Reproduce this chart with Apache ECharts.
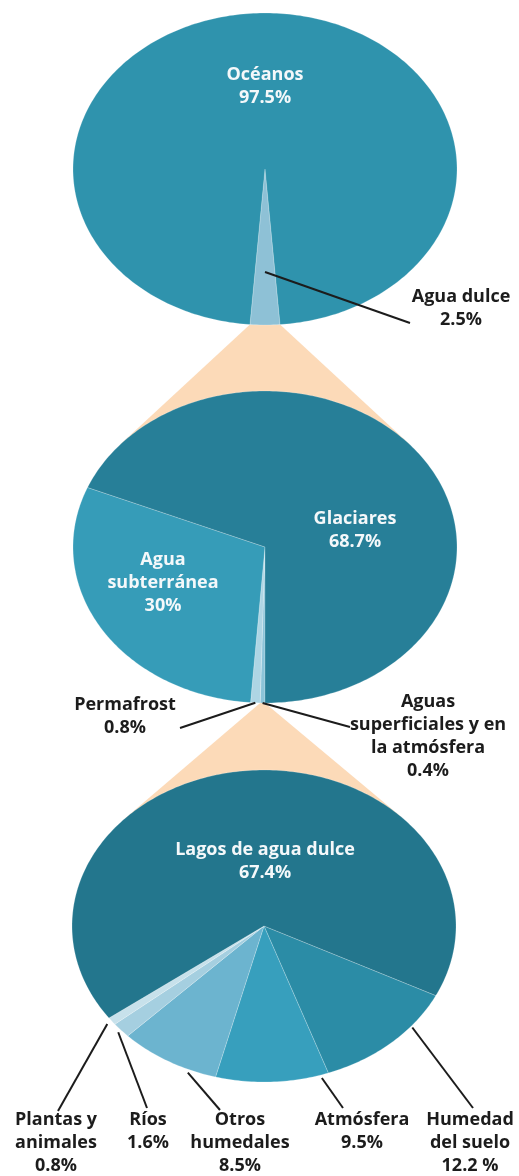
<!DOCTYPE html>
<html><head><meta charset="utf-8">
<script src="https://cdn.jsdelivr.net/npm/echarts@6/dist/echarts.min.js"></script>
<style>html,body{margin:0;padding:0;background:#fff}#c{width:519px;height:1176px}</style>
</head><body><div id="c"></div>
<script>
// ---------- DATA ----------
const totalNames  = ['Agua dulce', 'Océanos'];
const totalValues = [2.5, 97.5];
const totalPct    = ['2.5%', '97.5%'];

const freshNames  = ['Aguas\nsuperficiales y en\nla atmósfera', 'Permafrost', 'Agua\nsubterránea', 'Glaciares'];
const freshValues = [0.4, 0.8, 30, 68.7];
const freshPct    = ['0.4%', '0.8%', '30%', '68.7%'];

const surfNames   = ['Humedad\ndel suelo', 'Atmósfera', 'Otros\nhumedales', 'Ríos', 'Plantas y\nanimales', 'Lagos de agua dulce'];
const surfValues  = [12.2, 9.5, 8.5, 1.6, 0.8, 67.4];
const surfPct     = ['12.2 %', '9.5%', '8.5%', '1.6%', '0.8%', '67.4%'];

// ---------- LAYOUT / STYLE ----------
const RX = 192, RY = 156;
const FONT = '"Open Sans", "DejaVu Sans", sans-serif';
const DARK = '#1c1c1c', WHITE = '#f4f8fa';

function sum(a){ return a.reduce((s, v) => s + v, 0); }

const pies = [
  { cx: 265, cy: 169,
    start: 90 - totalValues[0] / sum(totalValues) * 180,
    names: totalNames, values: totalValues, pct: totalPct,
    colors: ['#8EC1D6', '#2F93AD'],
    zoomSlice: 0,
    labels: [
      { x: 461, y: 308.5, color: DARK, line: { frac: 0.5, r: 0.66, to: [410, 323] } },
      { x: 265, y: 86.5, color: WHITE }
    ] },
  { cx: 265, cy: 547, start: 90,
    names: freshNames, values: freshValues, pct: freshPct,
    colors: ['#8CC4D9', '#AED5E4', '#369CB8', '#277F98'],
    zoomSlice: 0,
    labels: [
      { x: 428, y: 736.5, color: DARK, line: { frac: 0.5, r: 1.0, to: [350, 727] } },
      { x: 125, y: 716.5, color: DARK, line: { frac: 0.5, r: 1.0, to: [180, 728] } },
      { x: 163, y: 583, color: WHITE },
      { x: 355, y: 530.5, color: WHITE }
    ] },
  { cx: 264, cy: 926, start: 26.5,
    names: surfNames, values: surfValues, pct: surfPct,
    colors: ['#2B8CA6', '#379FBD', '#6CB4CF', '#A5CFE0', '#C7E1EB', '#23768D'],
    zoomSlice: null,
    labels: [
      { x: 470, y: 1143, color: DARK, line: { frac: 0.31, r: 1.01, to: [473, 1108] } },
      { x: 362, y: 1131.5, color: DARK, line: { frac: 0.07, r: 1.02, to: [343, 1108] } },
      { x: 240, y: 1143, color: DARK, line: { frac: 0.27, r: 1.02, to: [220, 1110] } },
      { x: 148, y: 1131.5, color: DARK, line: { frac: 0.5, r: 1.02, to: [147, 1108] } },
      { x: 56, y: 1143, color: DARK, line: { frac: 0.5, r: 1.03, to: [58, 1111] } },
      { x: 265, y: 861.5, color: WHITE }
    ] }
];

function ellPt(p, angDeg, rf){
  const a = angDeg * Math.PI / 180;
  return [p.cx + RX * rf * Math.cos(a), p.cy + RY * rf * Math.sin(a)];
}
function sliceAngles(p){
  const tot = sum(p.values); let acc = p.start;
  return p.values.map(v => { const s = acc; acc += v / tot * 360; return [s, acc]; });
}
pies.forEach(p => p.angles = sliceAngles(p));

// tangent point from external point A to ellipse of pie q; side -1 = left, +1 = right
function tangent(A, q, side){
  const ux = (A[0] - q.cx) / RX, uy = (A[1] - q.cy) / RY;
  const d = Math.hypot(ux, uy), phi = Math.atan2(uy, ux), al = Math.acos(1 / d);
  const c1 = phi - al, c2 = phi + al;
  const p1 = [q.cx + RX * Math.cos(c1), q.cy + RY * Math.sin(c1)];
  const p2 = [q.cx + RX * Math.cos(c2), q.cy + RY * Math.sin(c2)];
  if (side < 0) return p1[0] < p2[0] ? p1 : p2;
  return p1[0] > p2[0] ? p1 : p2;
}

function pieSeries(p, idx){
  return {
    type: 'custom', coordinateSystem: 'none', silent: true, z: 3,
    data: p.values,
    renderItem: (params, api) => {
      const i = params.dataIndex;
      const [s, e] = p.angles[i];
      const n = Math.max(3, Math.ceil(e - s));
      const pts = [[p.cx, p.cy]];
      for (let k = 0; k <= n; k++) pts.push(ellPt(p, s + (e - s) * k / n, 1));
      const children = [{
        type: 'polygon', shape: { points: pts },
        style: { fill: p.colors[i], stroke: 'rgba(255,255,255,0.3)', lineWidth: 0.7 }, z2: 0
      }];
      const L = p.labels[i];
      if (L.line) {
        const f = ellPt(p, s + (e - s) * L.line.frac, L.line.r);
        children.push({ type: 'line', shape: { x1: f[0], y1: f[1], x2: L.line.to[0], y2: L.line.to[1] },
          style: { stroke: DARK, lineWidth: 2 }, z2: 10 });
      }
      children.push({ type: 'text', x: L.x, y: L.y, z2: 20,
        style: { text: p.names[i] + '\n' + p.pct[i], fill: L.color, fontFamily: FONT,
          fontWeight: 'bold', fontSize: 18, lineHeight: 23, align: 'center', verticalAlign: 'middle' } });
      return { type: 'group', children };
    }
  };
}

const funnelSeries = {
  type: 'custom', coordinateSystem: 'none', silent: true, z: 1,
  data: [0, 1],
  renderItem: (params, api) => {
    const p = pies[params.dataIndex], q = pies[params.dataIndex + 1];
    const [s, e] = p.angles[p.zoomSlice];
    const a1 = ellPt(p, s, 1), a2 = ellPt(p, e, 1);
    const L = a1[0] < a2[0] ? a1 : a2, R = a1[0] < a2[0] ? a2 : a1;
    const tl = tangent(L, q, -1), tr = tangent(R, q, 1);
    return { type: 'polygon', shape: { points: [L, tl, [q.cx, q.cy], tr, R] },
      style: { fill: '#FCDAB8' } };
  }
};

const chart = echarts.init(document.getElementById('c'), null, { renderer: 'canvas' });
chart.setOption({
  animation: false,
  backgroundColor: '#ffffff',
  series: [funnelSeries].concat(pies.map(pieSeries))
});
</script></body></html>
